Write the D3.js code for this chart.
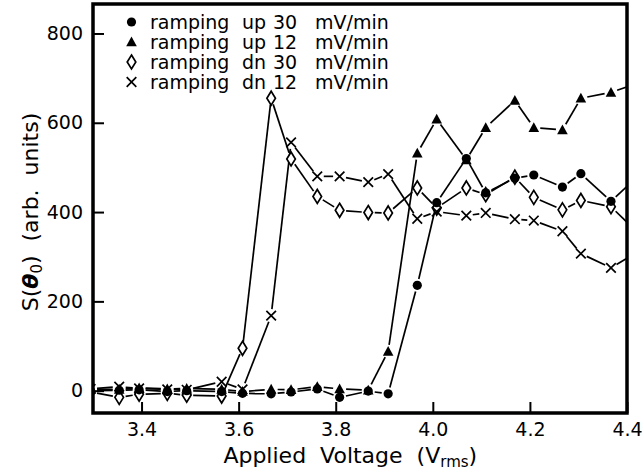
<!DOCTYPE html>
<html>
<head>
<meta charset="utf-8">
<script src="https://cdn.jsdelivr.net/npm/d3@7"></script>
<style>
    body { margin: 0; background: #fff; }
    svg { display: block; }
    text { font-family: "DejaVu Sans", sans-serif; fill: #000; }
</style>
</head>
<body>
<div id="chart"></div>
<script>
// applied voltage (V rms), shared by all four runs
const voltage = [3.295, 3.354, 3.395, 3.453, 3.493, 3.565, 3.608, 3.667, 3.708, 3.762, 3.808, 3.867,
                 3.908, 3.968, 4.008, 4.069, 4.109, 4.169, 4.208, 4.267, 4.305, 4.367, 4.44];

// S(theta0), arb. units
const upFast = [0, 1, 2, -2, 0, -2, -6, -7, -3, 4, -15, -1, -7, 236, 421, 520, 443, 476, 483, 456, 486, 424, 498];
const upSlow = [3, 3, 6, 4, 5, 3, -2, 3, 2, 9, 4, 1, 88, 532, 608, 517, 589, 650, 589, 584, 655, 668, 695];
const dnFast = [-3, -15, -8, -6, -10, -12, 95, 655, 519, 435, 404, 399, 398, 454, 409, 454, 439, 478, 433, 405, 426, 412, 335];
const dnSlow = [4, 9, 5, 3, 2, 20, 3, 168, 556, 480, 480, 467, 485, 385, 401, 392, 398, 384, 381, 357, 307, 275, 323];

const legendDirection = ['up', 'up', 'dn', 'dn'];
const legendRate = ['30', '12', '30', '12'];
const legendUnit = 'mV/min';

const xTicks = [3.4, 3.6, 3.8, 4.0, 4.2, 4.4];
const yTicks = [0, 200, 400, 600, 800];

const width = 644, height = 474;
const margin = { left: 93, top: 4, right: 17, bottom: 61 };
const innerW = width - margin.left - margin.right;
const innerH = height - margin.top - margin.bottom;

const x = d3.scaleLinear().domain([3.3, 4.4]).range([0, innerW]);
const y = d3.scaleLinear().domain([-50, 866]).range([innerH, 0]);

const series = [
    { values: upFast, marker: 'circle' },
    { values: upSlow, marker: 'triangle' },
    { values: dnFast, marker: 'diamond' },
    { values: dnSlow, marker: 'cross' }
];

const svg = d3.select('#chart').append('svg')
    .attr('width', width)
    .attr('height', height);

svg.append('defs').append('clipPath')
    .attr('id', 'clip')
    .append('rect')
    .attr('width', innerW)
    .attr('height', innerH);

const g = svg.append('g')
    .attr('transform', 'translate(' + [margin.left, margin.top] + ')');

/*
 * Marker shapes, drawn around (0,0).
 */
function drawMarker(sel, type) {
    if (type === 'circle') {
        sel.append('circle').attr('r', 4.6).attr('fill', '#000');
    } else if (type === 'triangle') {
        sel.append('path').attr('d', 'M0,-5.5L5.3,4.3L-5.3,4.3Z').attr('fill', '#000');
    } else if (type === 'diamond') {
        sel.append('path').attr('d', 'M0,-7L4.3,0L0,7L-4.3,0Z')
            .attr('fill', '#fff').attr('stroke', '#000').attr('stroke-width', 1.7);
    } else {
        sel.append('path').attr('d', 'M-4.8,-4.8L4.8,4.8M-4.8,4.8L4.8,-4.8')
            .attr('fill', 'none').attr('stroke', '#000').attr('stroke-width', 1.7);
    }
}

/*
 * Segments between neighbouring points, pulled back from each marker
 * so the line stops short of the symbol like in the original plot.
 */
function gapSegments(values, gap) {
    const pts = voltage.map((v, i) => [x(v), y(values[i])]);
    const segs = [];
    for (let i = 0; i < pts.length - 1; i++) {
        const [x1, y1] = pts[i], [x2, y2] = pts[i + 1];
        const len = Math.hypot(x2 - x1, y2 - y1);
        if (len <= 2 * gap + 1) continue;
        const ux = (x2 - x1) / len, uy = (y2 - y1) / len;
        segs.push([x1 + ux * gap, y1 + uy * gap, x2 - ux * gap, y2 - uy * gap]);
    }
    return segs;
}

const plot = g.append('g').attr('clip-path', 'url(#clip)');

series.forEach(function(s) {
    plot.append('g').selectAll('line')
        .data(gapSegments(s.values, 6.5))
        .join('line')
        .attr('x1', d => d[0]).attr('y1', d => d[1])
        .attr('x2', d => d[2]).attr('y2', d => d[3])
        .attr('stroke', '#000')
        .attr('stroke-width', 1.7);
});

[2, 3, 1, 0].forEach(function(k) {
    const s = series[k];
    plot.append('g').selectAll('g')
        .data(voltage.map((v, i) => [v, s.values[i]]))
        .join('g')
        .attr('transform', d => 'translate(' + [x(d[0]), y(d[1])] + ')')
        .each(function() { drawMarker(d3.select(this), s.marker); });
});

// axes, ticks inside the frame
const xAxis = g.append('g')
    .attr('transform', 'translate(0,' + innerH + ')')
    .call(d3.axisBottom(x).tickValues(xTicks).tickFormat(d3.format('.1f')).tickSize(-11).tickPadding(10));

const yAxis = g.append('g')
    .call(d3.axisLeft(y).tickValues(yTicks).tickFormat(d3.format('d')).tickSize(-11).tickPadding(10));

[xAxis, yAxis].forEach(function(a) {
    a.select('.domain').remove();
    a.attr('font-family', '"DejaVu Sans", sans-serif').attr('font-size', 19);
    a.selectAll('line').attr('stroke-width', 2);
});

g.append('rect')
    .attr('width', innerW)
    .attr('height', innerH)
    .attr('fill', 'none')
    .attr('stroke', '#000')
    .attr('stroke-width', 3.5);

// legend
const legend = g.append('g');
legendDirection.forEach(function(dir, i) {
    const cy = 18 + i * 20;
    const row = legend.append('g').attr('transform', 'translate(0,' + cy + ')');
    drawMarker(row.append('g').attr('transform', 'translate(38.5,0)'), series[i].marker);
    const t = row.append('text').attr('y', 6.5).attr('font-size', 19);
    t.append('tspan').attr('x', 57).text('ramping');
    t.append('tspan').attr('x', 149).text(dir);
    t.append('tspan').attr('x', 180).text(legendRate[i]);
    t.append('tspan').attr('x', 222).text(legendUnit);
});

// axis titles
const xTitle = svg.append('text')
    .attr('x', margin.left + x(3.83))
    .attr('y', 463)
    .attr('text-anchor', 'middle')
    .attr('font-size', 22)
    .style('white-space', 'pre');
xTitle.append('tspan').text('Applied  Voltage  (V');
xTitle.append('tspan').attr('font-size', 15).attr('dy', 4).text('rms');
xTitle.append('tspan').attr('dy', -4).text(')');

const yTitle = svg.append('text')
    .attr('transform', 'translate(38,212) rotate(-90)')
    .attr('text-anchor', 'middle')
    .attr('font-size', 22)
    .style('white-space', 'pre');
yTitle.append('tspan').text('S(');
yTitle.append('tspan').attr('font-weight', 'bold').attr('font-style', 'italic').text('θ');
yTitle.append('tspan').attr('font-size', 15).attr('dy', 4).text('0');
yTitle.append('tspan').attr('dy', -4).text(')  (arb.  units)');
</script>
</body>
</html>
